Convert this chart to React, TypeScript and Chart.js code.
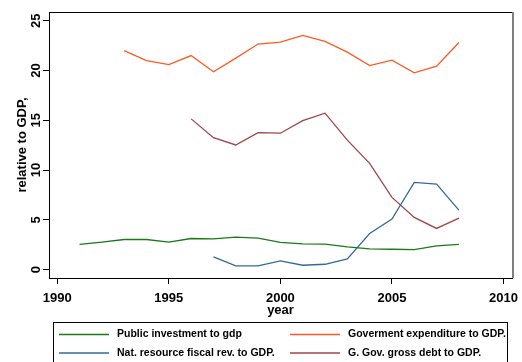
import React, { useEffect, useRef } from "react";
import { Chart, registerables } from "chart.js";

Chart.register(...registerables);

const yearsInvest = [1991, 1992, 1993, 1994, 1995, 1996, 1997, 1998, 1999, 2000, 2001, 2002, 2003, 2004, 2005, 2006, 2007, 2008];
const publicInvestment = [2.52, 2.75, 3.02, 3.02, 2.75, 3.12, 3.09, 3.25, 3.15, 2.72, 2.58, 2.55, 2.28, 2.08, 2.04, 2.01, 2.38, 2.52];

const yearsExpend = [1993, 1994, 1995, 1996, 1997, 1998, 1999, 2000, 2001, 2002, 2003, 2004, 2005, 2006, 2007, 2008];
const govExpenditure = [22.0, 21.0, 20.6, 21.5, 19.87, 21.25, 22.66, 22.86, 23.53, 22.92, 21.85, 20.5, 21.04, 19.77, 20.44, 22.82];

const yearsNatRes = [1997, 1998, 1999, 2000, 2001, 2002, 2003, 2004, 2005, 2006, 2007, 2008];
const natResourceRev = [1.27, 0.37, 0.37, 0.87, 0.43, 0.53, 1.07, 3.62, 5.07, 8.76, 8.59, 5.97];

const yearsDebt = [1996, 1997, 1998, 1999, 2000, 2001, 2002, 2003, 2004, 2005, 2006, 2007, 2008];
const grossDebt = [15.14, 13.25, 12.52, 13.76, 13.7, 14.97, 15.71, 13.0, 10.67, 7.25, 5.24, 4.13, 5.17];

const seriesLabels = [
  "Public investment to gdp",
  "Goverment expenditure to GDP.",
  "Nat. resource fiscal rev. to GDP.",
  "G. Gov. gross debt to GDP.",
];
const seriesColors = ["#1a7a1a", "#ff5a20", "#356a96", "#a0444a"];

const xTickValues = [1990, 1995, 2000, 2005, 2010];
const yTickValues = [0, 5, 10, 15, 20, 25];

const FONT = "'Liberation Sans', Arial, sans-serif";

const pts = (xs: number[], ys: number[]) => xs.map((x, i) => ({ x, y: ys[i] }));

const framePlugin = {
  id: "frame",
  afterDraw(chart: any) {
    const { ctx, chartArea } = chart;
    const { left, right, top, bottom } = chartArea;
    ctx.save();
    // top border
    ctx.strokeStyle = "#000";
    ctx.lineWidth = 1;
    ctx.beginPath();
    ctx.moveTo(left, top + 0.5);
    ctx.lineTo(right, top + 0.5);
    ctx.stroke();
    // right border
    ctx.strokeStyle = "#808080";
    ctx.lineWidth = 2;
    ctx.beginPath();
    ctx.moveTo(right + 1, top);
    ctx.lineTo(right + 1, bottom);
    ctx.stroke();

    // rotated y tick labels
    const ys = chart.scales.y;
    ctx.fillStyle = "#000";
    ctx.font = `bold 13px ${FONT}`;
    ctx.textAlign = "center";
    ctx.textBaseline = "middle";
    ys.ticks.forEach((t: any) => {
      const py = ys.getPixelForValue(t.value);
      ctx.save();
      ctx.translate(left - 12.5, py);
      ctx.rotate(-Math.PI / 2);
      ctx.fillText(String(t.label), 0, 0);
      ctx.restore();
    });

    // legend
    const boxTop = bottom + 44;
    ctx.strokeStyle = "#000";
    ctx.lineWidth = 1;
    ctx.strokeRect(53.5, boxTop + 0.5, 454, 60);
    ctx.font = `bold 10.5px ${FONT}`;
    ctx.textAlign = "left";
    const lineX = [59, 290];
    const textX = [117, 348];
    const rowY = [boxTop + 12.5, boxTop + 31];
    chart.data.datasets.forEach((ds: any, i: number) => {
      const col = i % 2;
      const row = Math.floor(i / 2);
      ctx.strokeStyle = ds.borderColor;
      ctx.lineWidth = 1.4;
      ctx.beginPath();
      ctx.moveTo(lineX[col], rowY[row]);
      ctx.lineTo(lineX[col] + 50, rowY[row]);
      ctx.stroke();
      ctx.fillStyle = "#000";
      ctx.fillText(ds.label, textX[col], rowY[row]);
    });
    ctx.restore();
  },
};

export default function App() {
  const ref = useRef<HTMLCanvasElement | null>(null);

  useEffect(() => {
    document.body.style.margin = "0";
    if (!ref.current) return;
    const seriesData = [
      pts(yearsInvest, publicInvestment),
      pts(yearsExpend, govExpenditure),
      pts(yearsNatRes, natResourceRev),
      pts(yearsDebt, grossDebt),
    ];
    const chart = new Chart(ref.current, {
      type: "line",
      data: {
        datasets: seriesData.map((d, i) => ({
          label: seriesLabels[i],
          data: d,
          borderColor: seriesColors[i],
          backgroundColor: seriesColors[i],
          borderWidth: 1.3,
          pointRadius: 0,
          tension: 0,
          fill: false,
        })),
      },
      options: {
        animation: false,
        responsive: false,
        devicePixelRatio: 1,
        layout: { padding: { left: 0, top: 12, right: 10, bottom: 44 } },
        plugins: { legend: { display: false }, tooltip: { enabled: false } },
        scales: {
          x: {
            type: "linear",
            min: 1989.63,
            max: 2010.38,
            afterBuildTicks: (s: any) => {
              s.ticks = xTickValues.map((v) => ({ value: v }));
            },
            afterFit: (s: any) => {
              s.height = 40;
              s.paddingLeft = 0;
              s.paddingRight = 0;
            },
            ticks: {
              color: "#000",
              font: { family: FONT, size: 13, weight: "bold" },
              padding: 7,
              maxRotation: 0,
              autoSkip: false,
              callback: (v: any) => String(v),
            },
            grid: { drawOnChartArea: false, drawTicks: true, tickLength: 6, color: "#000" },
            border: { display: true, color: "#000", width: 1 },
            title: {
              display: true,
              text: "year",
              color: "#000",
              font: { family: FONT, size: 13, weight: "bold" },
              padding: { top: 0, bottom: 0 },
            },
          },
          y: {
            type: "linear",
            min: -0.85,
            max: 25.88,
            afterBuildTicks: (s: any) => {
              s.ticks = yTickValues.map((v) => ({ value: v }));
            },
            afterFit: (s: any) => {
              s.width = 49;
            },
            ticks: { display: false },
            grid: { drawOnChartArea: false, drawTicks: true, tickLength: 6, color: "#000" },
            border: { display: true, color: "#000", width: 1 },
            title: {
              display: true,
              text: "relative to GDP,",
              color: "#000",
              font: { family: FONT, size: 13, weight: "bold" },
              padding: { top: 15, bottom: 0 },
            },
          },
        },
      },
      plugins: [framePlugin],
    });
    return () => chart.destroy();
  }, []);

  return (
    <div style={{ width: 522, height: 362, background: "#fff" }}>
      <canvas ref={ref} width={522} height={362} style={{ display: "block", width: 522, height: 362 }} />
    </div>
  );
}
